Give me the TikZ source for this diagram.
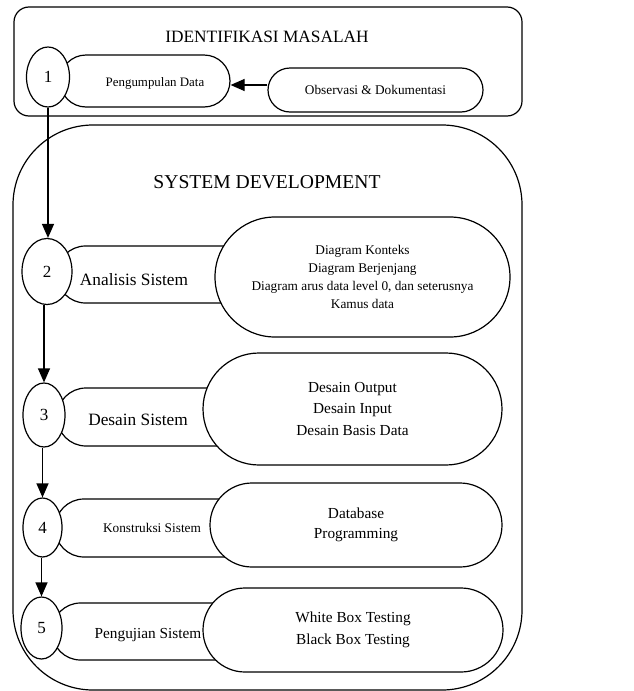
\documentclass[tikz,border=0pt]{standalone}
\usepackage{fontspec}
\setmainfont{Liberation Serif}
\usetikzlibrary{arrows.meta,shapes.geometric,shapes.misc,positioning}

\begin{document}
\begin{tikzpicture}[x=1pt,y=-1pt,line width=1.2pt,
    num/.style={draw,ellipse,fill=white,inner sep=0pt,font=\fontsize{17}{20}\selectfont},
    proc/.style={draw,rounded rectangle,fill=white,inner sep=0pt},
    task/.style={draw,rounded rectangle,fill=white,align=center,inner sep=0pt},
    arr/.style={-{Triangle[length=14pt,width=12pt]}}]
  \useasboundingbox (0,0) rectangle (634,691);
  % identifikasi masalah
  \draw[rounded corners=15pt] (14,7) rectangle (522,116);
  \node[font=\fontsize{17.3}{20}\selectfont] (judul1) at (267,37) {IDENTIFIKASI MASALAH};
  % system development
  \draw[rounded corners=80pt] (13,125) rectangle (522,690);
  \node[font=\fontsize{19.6}{22}\selectfont] (judul2) at (267,182) {SYSTEM DEVELOPMENT};
  % langkah
  \node[proc,minimum width=170pt,minimum height=52pt] (p1) at (145,81) {};
  \node[proc,minimum width=203pt,minimum height=57pt] (p2) at (158.5,274.5) {};
  \node[proc,minimum width=193pt,minimum height=58pt] (p3) at (153.5,417) {};
  \node[proc,minimum width=200pt,minimum height=58pt] (p4) at (155,528) {};
  \node[proc,minimum width=198pt,minimum height=57pt] (p5) at (151,631.5) {};
  \node[font=\fontsize{12.9}{15}\selectfont] (t1) at (155,83) {Pengumpulan Data};
  \node[font=\fontsize{17.3}{20}\selectfont] (t2) at (134,280) {Analisis Sistem};
  \node[font=\fontsize{17.3}{20}\selectfont] (t3) at (138,420) {Desain Sistem};
  \node[font=\fontsize{13.3}{16}\selectfont] (t4) at (152,528) {Konstruksi Sistem};
  \node[font=\fontsize{15.3}{18}\selectfont] (t5) at (148,635) {Pengujian Sistem};
  % nomor
  \node[num,minimum width=43pt,minimum height=60pt] (c1) at (48,77) {1};
  \node[num,minimum width=50pt,minimum height=66pt] (c2) at (47,271.5) {2};
  \node[num,minimum width=42pt,minimum height=64pt] (c3) at (44,415) {3};
  \node[num,minimum width=39pt,minimum height=59pt] (c4) at (42.5,527.5) {4};
  \node[num,minimum width=41pt,minimum height=62pt] (c5) at (41.5,628) {5};
  % isi
  \node[task,minimum width=215pt,minimum height=44pt,font=\fontsize{13.3}{16}\selectfont] (o1) at (375.5,90) {Observasi \& Dokumentasi};
  \node[task,minimum width=295pt,minimum height=120pt,font=\fontsize{13.3}{18}\selectfont] (b2) at (362.5,277)
    {Diagram Konteks\\Diagram Berjenjang\\Diagram arus data level 0, dan seterusnya\\Kamus data};
  \node[task,minimum width=299pt,minimum height=112pt,font=\fontsize{15.3}{21.5}\selectfont] (b3) at (352.5,409)
    {Desain Output\\Desain Input\\Desain Basis Data};
  \node[task,minimum width=292pt,minimum height=84pt,font=\fontsize{15.3}{20}\selectfont] (b4) at (356,525)
    {Database\\Programming};
  \node[task,minimum width=300pt,minimum height=84pt,font=\fontsize{15.3}{22}\selectfont] (b5) at (353,630)
    {White Box Testing\\Black Box Testing};
  % panah
  \draw[arr] ([yshift=5pt]o1.west) -- ([yshift=5pt]o1.west -| p1.east);
  \draw[arr] (c1.south) -- (c1.south |- c2.north);
  \draw[arr] (c2.south -| c3.north) -- (c3.north);
  \draw[arr] (c3.south -| c4.north) -- (c4.north);
  \draw[arr] (c4.south -| c5.north) -- (c5.north);
\end{tikzpicture}
\end{document}
